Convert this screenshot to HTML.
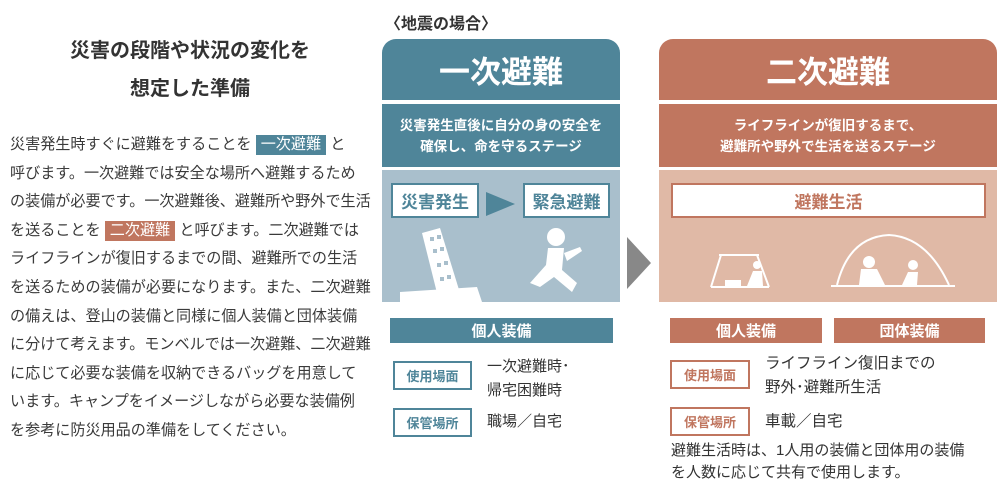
<!DOCTYPE html>
<html><head><meta charset="utf-8"><style>
*{margin:0;padding:0;box-sizing:border-box}
body{width:1000px;height:499px;background:#fff;position:relative;overflow:hidden;font-family:"Liberation Sans","Noto Sans CJK JP",sans-serif;color:#333}
.a{position:absolute;white-space:nowrap}
.p{left:10px;font-size:15.1px;line-height:20px;color:#3a3a3a}
.hb{display:inline-block;background:#4f8599;color:#fff;padding:0 5px;line-height:20px}
.ho{display:inline-block;background:#c0765f;color:#fff;padding:0 5px;line-height:20px}
.box{position:absolute;background:#fff;border:2px solid;display:flex;align-items:center;justify-content:center;font-weight:bold;font-size:13px}
.c{display:flex;align-items:center;justify-content:center;color:#fff;font-weight:bold;text-align:center}
</style></head><body>
<div class="a" style="left:0;width:380px;top:32px;text-align:center;font-size:20px;font-weight:bold;line-height:38px;color:#333">災害の段階や状況の変化を<br>想定した準備</div>
<div class="a p" style="top:135px">災害発生時すぐに避難をすることを <span class="hb">一次避難</span> と</div>
<div class="a p" style="top:164px">呼びます。一次避難では安全な場所へ避難するため</div>
<div class="a p" style="top:192px">の装備が必要です。一次避難後、避難所や野外で生活</div>
<div class="a p" style="top:221px">を送ることを <span class="ho">二次避難</span> と呼びます。二次避難では</div>
<div class="a p" style="top:249px">ライフラインが復旧するまでの間、避難所での生活</div>
<div class="a p" style="top:278px">を送るための装備が必要になります。また、二次避難</div>
<div class="a p" style="top:307px">の備えは、登山の装備と同様に個人装備と団体装備</div>
<div class="a p" style="top:335px">に分けて考えます。モンベルでは一次避難、二次避難</div>
<div class="a p" style="top:364px">に応じて必要な装備を収納できるバッグを用意して</div>
<div class="a p" style="top:392px">います。キャンプをイメージしながら必要な装備例</div>
<div class="a p" style="top:421px">を参考に防災用品の準備をしてください。</div>

<div class="a" style="left:385px;top:10px;font-size:16px;font-weight:bold;color:#333">〈地震の場合〉</div>

<!-- left panel -->
<div class="a c" style="left:382px;top:39px;width:238px;height:61px;background:#4f8599;border-radius:14px 14px 0 0;font-size:31px">一次避難</div>
<div class="a c" style="left:382px;top:104px;width:238px;height:63px;background:#4f8599;font-size:13.5px;line-height:21px">災害発生直後に自分の身の安全を<br>確保し、命を守るステージ</div>
<div class="a" style="left:382px;top:170px;width:238px;height:132px;background:#a9bfcc"></div>
<div class="box" style="left:391px;top:183px;width:88px;height:35px;border-color:#4f8599;color:#4f8599;font-size:17px">災害発生</div>
<div class="a" style="left:486px;top:192px;width:0;height:0;border-top:12px solid transparent;border-bottom:12px solid transparent;border-left:29px solid #4f8599"></div>
<div class="box" style="left:523px;top:183px;width:87px;height:35px;border-color:#4f8599;color:#4f8599;font-size:17px">緊急避難</div>
<svg class="a" style="left:382px;top:225px" width="238" height="77">
<g fill="#fff"><polygon points="18,67 95,62 100,77 18,77"/><polygon points="40,8 58,3 78,68 56,72"/><circle cx="174" cy="12" r="9"/><path d="M166 23 L182 23 L180 45 L195 58 L190 67 L172 52 L158 62 L148 58 L164 40 Z"/><path d="M182 28 L198 22 L200 26 L185 36 Z"/></g>
<g fill="#a9bfcc"><rect x="48" y="12" width="4" height="4"/><rect x="55" y="10" width="4" height="4"/><rect x="51" y="24" width="4" height="4"/><rect x="58" y="22" width="4" height="4"/><rect x="55" y="38" width="4" height="4"/><rect x="62" y="36" width="4" height="4"/><rect x="58" y="52" width="4" height="4"/><rect x="65" y="50" width="4" height="4"/></g>
</svg>
<div class="a c" style="left:390px;top:318px;width:223px;height:25px;background:#4f8599;font-size:15px">個人装備</div>
<div class="box" style="left:393px;top:361px;width:79px;height:29px;border-color:#4f8599;color:#4f8599">使用場面</div>
<div class="a" style="left:487px;top:355px;font-size:15px;line-height:24px;color:#333">一次避難時･<br>帰宅困難時</div>
<div class="box" style="left:393px;top:408px;width:79px;height:29px;border-color:#4f8599;color:#4f8599">保管場所</div>
<div class="a" style="left:487px;top:411px;font-size:15px;line-height:22px;color:#333">職場／自宅</div>

<!-- arrow -->
<div class="a" style="left:627px;top:237px;width:0;height:0;border-top:26px solid transparent;border-bottom:26px solid transparent;border-left:24px solid #888"></div>

<!-- right panel -->
<div class="a c" style="left:659px;top:39px;width:338px;height:61px;background:#c0765f;border-radius:14px 14px 0 0;font-size:31px">二次避難</div>
<div class="a c" style="left:659px;top:104px;width:338px;height:63px;background:#c0765f;font-size:13.5px;line-height:21px">ライフラインが復旧するまで、<br>避難所や野外で生活を送るステージ</div>
<div class="a" style="left:659px;top:170px;width:338px;height:132px;background:#e0b9a6"></div>
<div class="box" style="left:671px;top:183px;width:315px;height:35px;border-color:#c0765f;color:#c0765f;font-size:17px">避難生活</div>
<svg class="a" style="left:659px;top:225px" width="338" height="77">
<g stroke="#fff" stroke-width="2" fill="none"><path d="M60 30 L100 30 M62 30 L52 62 M98 30 L110 62 M52 62 L110 62"/><path d="M178 60 Q190 12 230 10 Q268 12 290 60 M172 61 L296 61"/></g>
<g fill="#fff"><rect x="66" y="55" width="16" height="7"/><circle cx="98" cy="40" r="4"/><path d="M94 46 L103 46 L104 61 L88 61 Z"/><circle cx="210" cy="37" r="6"/><path d="M202 44 L218 44 L226 60 L200 60 Z"/><circle cx="254" cy="40" r="5"/><path d="M249 47 L259 47 L258 60 L243 60 Z"/></g>
</svg>
<div class="a c" style="left:670px;top:318px;width:152px;height:25px;background:#c0765f;font-size:15px">個人装備</div>
<div class="a c" style="left:834px;top:318px;width:151px;height:25px;background:#c0765f;font-size:15px">団体装備</div>
<div class="box" style="left:670px;top:360px;width:80px;height:29px;border-color:#c0765f;color:#c0765f">使用場面</div>
<div class="a" style="left:765px;top:352px;font-size:15.5px;line-height:24px;color:#333">ライフライン復旧までの<br>野外･避難所生活</div>
<div class="box" style="left:670px;top:407px;width:80px;height:29px;border-color:#c0765f;color:#c0765f">保管場所</div>
<div class="a" style="left:765px;top:411px;font-size:15.5px;line-height:22px;color:#333">車載／自宅</div>
<div class="a" style="left:671px;top:440px;font-size:15px;line-height:22px;color:#333">避難生活時は、1人用の装備と団体用の装備<br>を人数に応じて共有で使用します。</div>
</body></html>
